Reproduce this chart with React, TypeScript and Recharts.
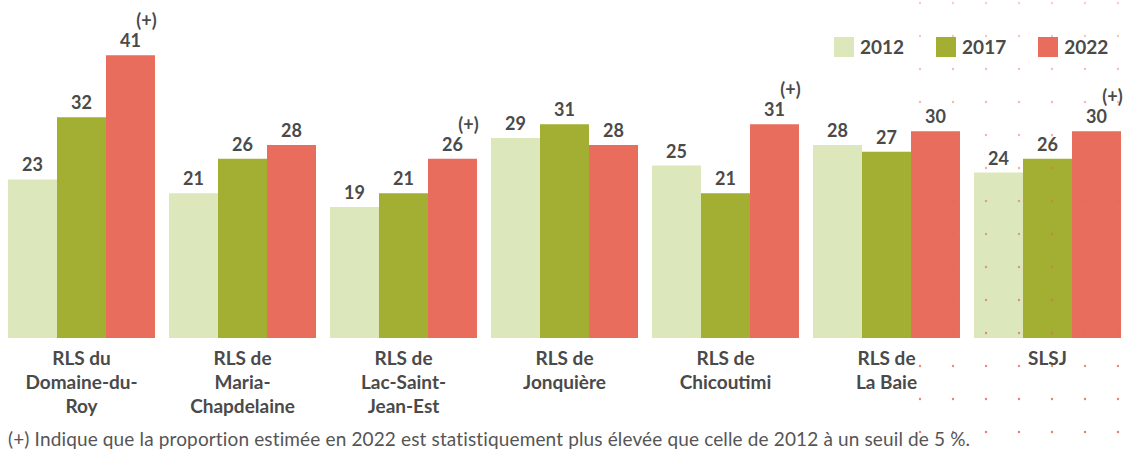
import { BarChart, Bar, XAxis, YAxis, LabelList } from 'recharts';

const categories = [
  'RLS du\nDomaine-du-\nRoy',
  'RLS de\nMaria-\nChapdelaine',
  'RLS de\nLac-Saint-\nJean-Est',
  'RLS de\nJonquière',
  'RLS de\nChicoutimi',
  'RLS de\nLa Baie',
  'SLSJ',
];
const values2012 = [23, 21, 19, 29, 25, 28, 24];
const values2017 = [32, 26, 21, 31, 21, 27, 26];
const values2022 = [41, 28, 26, 28, 31, 30, 30];
const signif2022 = ['(+)', '', '(+)', '', '(+)', '', '(+)'];

const series = [
  { key: 'y2012', name: '2012', color: '#dce8bb' },
  { key: 'y2017', name: '2017', color: '#a2af32' },
  { key: 'y2022', name: '2022', color: '#e96d5c' },
];

const FOOTNOTE =
  '(+) Indique que la proportion estimée en 2022 est statistiquement plus élevée que celle de 2012 à un seuil de 5 %.';

const FONT = 'Lato, "Open Sans", sans-serif';
const TEXT = '#4a4a4a';

const data = categories.map((name, i) => ({
  name,
  y2012: values2012[i],
  y2017: values2017[i],
  y2022: values2022[i],
  sig: signif2022[i],
}));

function CategoryTick(props: any) {
  const { x, y, payload } = props;
  const lines = String(payload.value).split('\n');
  return (
    <text x={x} y={y} textAnchor="middle" fill={TEXT} fontFamily={FONT} fontWeight={700} fontSize={19}>
      {lines.map((line, i) => (
        <tspan key={i} x={x} dy={i === 0 ? 27 : 24}>
          {line}
        </tspan>
      ))}
    </text>
  );
}

function SigLabel(props: any) {
  const { x, y, width, value } = props;
  if (!value) return null;
  return (
    <text
      x={x + width / 2 + 16}
      y={y - 28}
      textAnchor="middle"
      fill={TEXT}
      fontFamily={FONT}
      fontWeight={700}
      fontSize={18}
    >
      {value}
    </text>
  );
}

function LegendBox() {
  return (
    <div
      style={{
        position: 'absolute',
        left: 834,
        top: 35,
        display: 'flex',
        alignItems: 'center',
        fontFamily: FONT,
        fontWeight: 700,
        fontSize: 19,
        color: TEXT,
      }}
    >
      {series.map((s) => (
        <div key={s.key} style={{ display: 'flex', alignItems: 'center', marginRight: 32 }}>
          <div style={{ width: 20, height: 20, background: s.color, marginRight: 6 }} />
          <span>{s.name}</span>
        </div>
      ))}
    </div>
  );
}

// decorative dot grid in the right part of the picture
const dotCols = [0, 1, 2, 3, 4, 5, 6];
const dotRows = [0, 1, 2, 3, 4, 5, 6, 7, 8, 9, 10, 11, 12, 13];

export default function App() {
  return (
    <div style={{ position: 'absolute', left: 0, top: 0, width: 1136, height: 452, background: '#fff' }}>
      <BarChart
        width={1136}
        height={452}
        data={data}
        margin={{ top: 7, right: 8, left: 1, bottom: 14 }}
        barCategoryGap={7}
        barGap={0}
      >
        <XAxis
          dataKey="name"
          axisLine={false}
          tickLine={false}
          tickSize={0}
          tickMargin={0}
          height={100}
          interval={0}
          tick={<CategoryTick />}
        />
        <YAxis hide domain={[0, 48]} />
        {series.map((s) => (
          <Bar key={s.key} dataKey={s.key} name={s.name} fill={s.color} isAnimationActive={false}>
            <LabelList
              dataKey={s.key}
              position="top"
              offset={8}
              fill={TEXT}
              fontFamily={FONT}
              fontWeight={700}
              fontSize={18}
            />
            {s.key === 'y2022' && <LabelList dataKey="sig" content={<SigLabel />} />}
          </Bar>
        ))}
      </BarChart>
      <LegendBox />
      <svg
        width={1136}
        height={452}
        style={{ position: 'absolute', left: 0, top: 0, pointerEvents: 'none' }}
      >
        {dotRows.map((r) =>
          dotCols.map((c) => (
            <circle
              key={`${r}-${c}`}
              cx={920 + c * 33}
              cy={3 + r * 33}
              r={1.2}
              fill="#e56a57"
              opacity={0.35 + r * 0.04}
            />
          ))
        )}
      </svg>
      <div
        style={{
          position: 'absolute',
          left: 8,
          top: 427,
          fontFamily: FONT,
          fontSize: 19,
          letterSpacing: 0.14,
          color: '#555',
          whiteSpace: 'nowrap',
        }}
      >
        {FOOTNOTE}
      </div>
    </div>
  );
}
